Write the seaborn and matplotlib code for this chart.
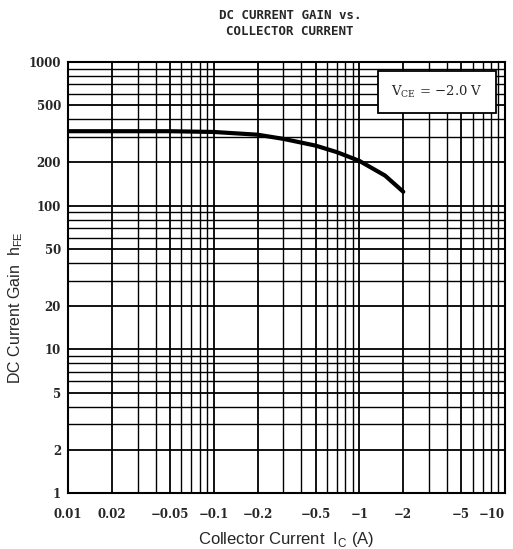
import numpy as np
import pandas as pd
import matplotlib
matplotlib.use("Agg")
import matplotlib.pyplot as plt
import seaborn as sns
from matplotlib.ticker import FixedLocator, NullFormatter, LogLocator

# =============================
# DATA
# =============================
ic_amps = [0.01, 0.02, 0.05, 0.1, 0.2, 0.3, 0.5, 0.7, 1.0, 1.5, 2.0]
hfe = [330, 330, 330, 326, 312, 292, 262, 236, 205, 162, 125]

x_ticks = [0.01, 0.02, 0.05, 0.1, 0.2, 0.5, 1, 2, 5, 10]
x_labels = ["0.01", "0.02", "\u22120.05", "\u22120.1", "\u22120.2",
            "\u22120.5", "\u22121", "\u22122", "\u22125", "\u221210"]
y_ticks = [1, 2, 5, 10, 20, 50, 100, 200, 500, 1000]
y_labels = ["1", "2", "5", "10", "20", "50", "100", "200", "500", "1000"]

df = pd.DataFrame({"ic": ic_amps, "hfe": hfe})

# =============================
# PLOT
# =============================
sns.set_style("white")
fig = plt.figure(figsize=(5.13, 5.49), dpi=100)
ax = fig.add_axes([0.1326, 0.102, 0.852, 0.785])

ax.set_xscale("log")
ax.set_yscale("log")
ax.set_xlim(0.01, 10)
ax.set_ylim(1, 1000)

# datasheet grid
ax.xaxis.set_minor_locator(LogLocator(base=10, subs=np.arange(2, 10)))
ax.yaxis.set_minor_locator(LogLocator(base=10, subs=np.arange(2, 10)))
ax.xaxis.set_minor_formatter(NullFormatter())
ax.yaxis.set_minor_formatter(NullFormatter())
ax.grid(which="major", color="black", linewidth=1.3)
ax.grid(which="minor", color="black", linewidth=1.0)

sns.lineplot(data=df, x="ic", y="hfe", ax=ax, color="black", linewidth=3.0)

ax.xaxis.set_major_locator(FixedLocator(x_ticks))
ax.set_xticklabels(x_labels, fontfamily="DejaVu Serif", fontweight="bold", fontsize=8.5)
ax.yaxis.set_major_locator(FixedLocator(y_ticks))
ax.set_yticklabels(y_labels, fontfamily="DejaVu Serif", fontweight="bold", fontsize=8.5)
ax.tick_params(axis="x", which="both", length=0, pad=11)
ax.tick_params(axis="y", which="both", length=0, pad=5)
ax.get_xticklabels()[-1].set_horizontalalignment("right")

for s in ax.spines.values():
    s.set_color("black")
    s.set_linewidth(1.5)

ax.set_xlabel("Collector Current  I$_\\mathregular{C}$ (A)", fontfamily="Liberation Sans",
              fontsize=12, labelpad=6)
ax.set_ylabel("DC Current Gain  h$_\\mathregular{FE}$", fontfamily="Liberation Sans",
              fontsize=11.5)
ax.yaxis.set_label_coords(-0.098, 0.43)

fig.text(0.565, 0.972, "DC CURRENT GAIN vs.", ha="center", va="center",
         fontfamily="DejaVu Sans Mono", fontweight="bold", fontsize=9)
fig.text(0.565, 0.942, "COLLECTOR CURRENT", ha="center", va="center",
         fontfamily="DejaVu Sans Mono", fontweight="bold", fontsize=9)

# condition box
ax.text(0.845, 0.93, "V$_\\mathregular{CE}$ = \u22122.0 V", transform=ax.transAxes,
        ha="center", va="center", fontfamily="DejaVu Serif", fontsize=9.5,
        bbox=dict(boxstyle="square,pad=1.0", facecolor="white", edgecolor="black",
                  linewidth=1.3), zorder=5)

fig.savefig("out.png", dpi=100)
